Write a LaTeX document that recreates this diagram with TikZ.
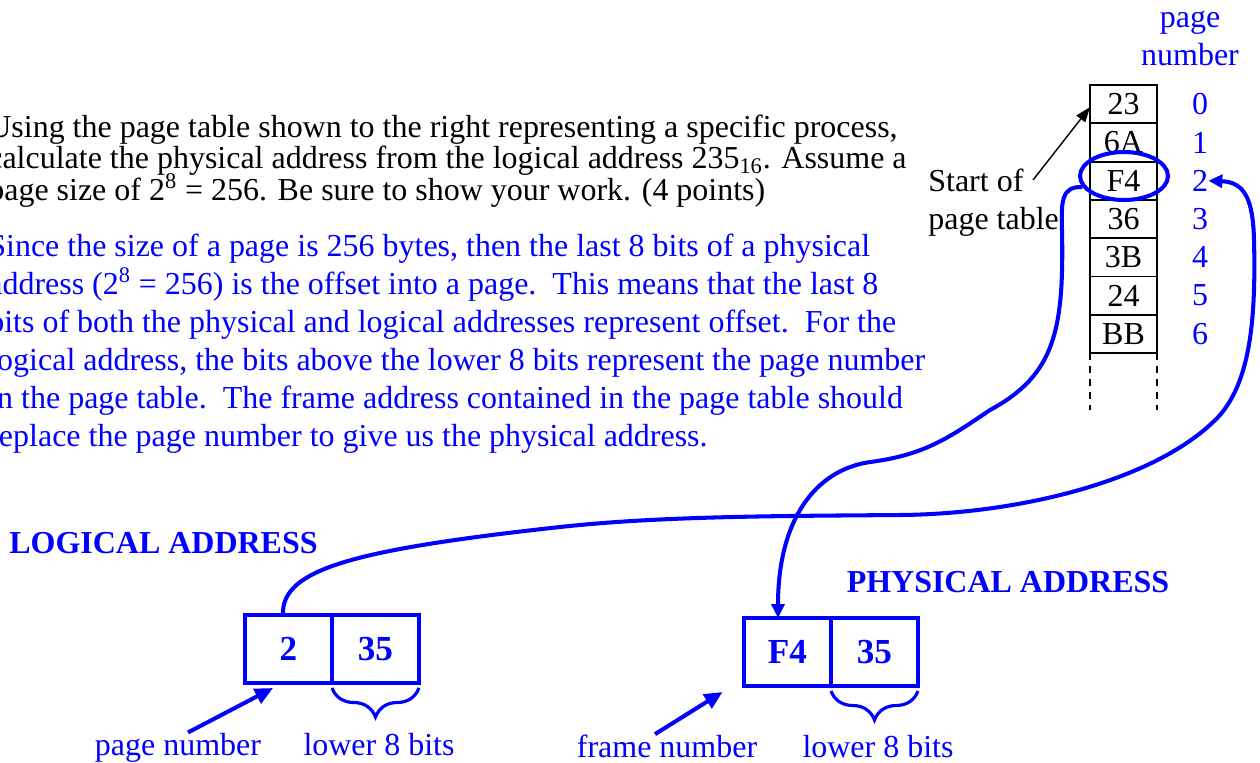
\documentclass[tikz,border=0pt]{standalone}
\usepackage{fontspec}
\setmainfont{Liberation Serif}
\usetikzlibrary{arrows.meta,positioning,shapes.geometric,decorations.pathreplacing}

\begin{document}
\begin{tikzpicture}[x=0.02cm,y=-0.02cm]
\tikzstyle{every node}=[font=\fontsize{18.2}{21.6}\selectfont, inner sep=0pt]
\tikzstyle{cell}=[draw=black, line width=1.1pt, minimum width=1.34cm, minimum height=0.766cm, outer sep=0pt]
\tikzstyle{addr}=[draw=blue, line width=2.3pt, minimum width=1.74cm, minimum height=1.36cm, outer sep=0pt, text=blue, font=\fontsize{20}{24}\selectfont\bfseries]
\tikzstyle{lbl}=[text=blue, anchor=base]
\tikzstyle{head}=[text=blue, anchor=base, font=\fontsize{18.2}{21.6}\selectfont\bfseries]
\tikzstyle{link}=[blue, line width=2.3pt, -{Triangle[length=0.28cm,width=0.26cm]}]
\tikzstyle{ptr}=[blue, line width=2.3pt, -{Triangle[length=0.36cm,width=0.32cm]}]
\tikzstyle{bits}=[blue, line width=1.8pt, decorate, decoration={brace, amplitude=0.58cm}]

\useasboundingbox (0,0) rectangle (1260,762);
\clip (0,0) rectangle (1260,762);

% question
\foreach \ln [count=\i from 0] in {{Using the page table shown to the right representing a specific process,},
  {calculate the physical address from the logical address 235\textsubscript{16}. Assume a},
  {page size of 2\textsuperscript{8} = 256. Be sure to show your work. (4 points)}}
  \node[anchor=base west] (q\i) at (-12,137+31.5*\i) {\ln};

% answer
\foreach \ln [count=\i from 0] in {{Since the size of a page is 256 bytes, then the last 8 bits of a physical},
  {address (2\textsuperscript{8} = 256) is the offset into a page.\ \ This means that the last 8},
  {bits of both the physical and logical addresses represent offset.\ \ For the},
  {logical address, the bits above the lower 8 bits represent the page number},
  {in the page table.\ \ The frame address contained in the page table should},
  {replace the page number to give us the physical address.}}
  \node[anchor=base west, text=blue] (a\i) at (-12,256+38*\i) {\ln};

% page table
\node[text=blue, align=center, anchor=base] (pnhead) at (1190,65) {page\\number};
\foreach \v [count=\i from 0] in {23,6A,F4,36,3B,24,BB} {
  \node[cell] (pt\i) at (1123.5,104.15+38.3*\i) {\v};
  \node[text=blue] (n\i) at (1200,104.15+38.3*\i) {\i};
}
\draw[line width=1.1pt, dash pattern=on 0.14cm off 0.12cm] (pt6.south west) -- ++(0,57);
\draw[line width=1.1pt, dash pattern=on 0.14cm off 0.12cm] (pt6.south east) -- ++(0,57);

\node[align=left, anchor=base west] (start) at (928,229) {Start of\\page table};
\coordinate (sttail) at (1033,180);
\draw[line width=0.8pt, -{Triangle[length=0.3cm,width=0.22cm]}] (sttail) -- ([yshift=-0.06cm]pt0.west);

\node[draw=blue, line width=2.3pt, ellipse, minimum width=1.76cm, minimum height=0.96cm] (sel) at (1124,176) {};

% logical address
\node[head] (lhead) at (163.5,553) {LOGICAL ADDRESS};
\node[addr] (lp) at (288.5,649) {2};
\node[addr, right=0pt of lp] (lo) {35};
\draw[bits] ([yshift=-0.1cm]lo.south east) -- ([yshift=-0.1cm]lo.south west);
\node[lbl] (pnlab) at (178,755) {page number};
\node[lbl] (lolab) at (379,755) {lower 8 bits};
\draw[ptr] ([xshift=0.2cm]pnlab.north) -- ([xshift=-0.31cm,yshift=-0.1cm]lp.south);

% physical address
\node[head] (phead) at (1008,592) {PHYSICAL ADDRESS};
\node[addr] (pf) at (787.5,652) {F4};
\node[addr, right=0pt of pf] (po) {35};
\draw[bits] ([yshift=-0.1cm]po.south east) -- ([yshift=-0.1cm]po.south west);
\node[lbl] (fnlab) at (667,757) {frame number};
\node[lbl] (polab) at (878,757) {lower 8 bits};
\draw[ptr] ([xshift=-0.24cm]fnlab.north) -- ([xshift=-1.3cm,yshift=-0.12cm]pf.south);

% page number into the table
\draw[link] ([xshift=-0.11cm]lp.north) .. controls (281,570) and (350,550) .. (560,527)
  .. controls (660,516) and (780,516) .. (900,515)
  .. controls (1020,514) and (1160,480) .. (1220,415)
  .. controls (1250,380) and (1256,320) .. (1254,240)
  .. controls (1253,200) and (1245,182) .. (n2.east);

% frame number out of the table
\draw[link] (sel.195) .. controls (1062,186) and (1061,200) .. (1062,230)
  .. controls (1064,330) and (1055,375) .. (990,410)
  .. controls (950,437) and (925,455) .. (870,462)
  .. controls (815,470) and (778,520) .. ([xshift=-0.19cm]pf.north);

\end{tikzpicture}
\end{document}
